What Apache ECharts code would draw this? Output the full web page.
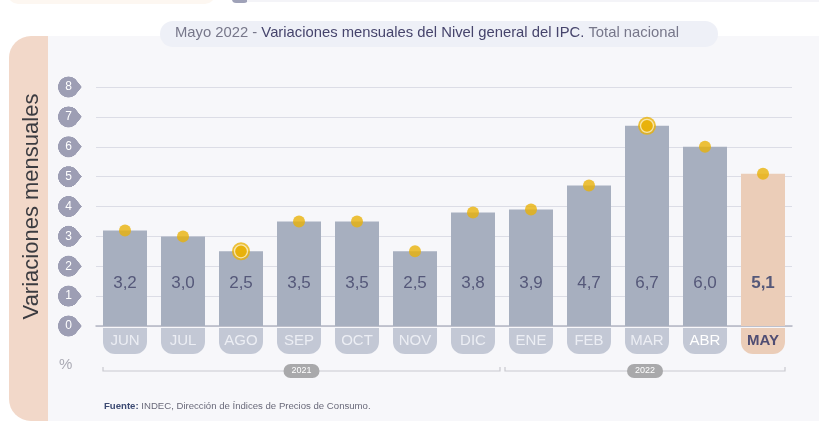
<!DOCTYPE html>
<html><head><meta charset="utf-8">
<script src="https://cdn.jsdelivr.net/npm/echarts@6/dist/echarts.min.js"></script>
<style>html,body{margin:0;padding:0;background:#fff}#c{width:819px;height:434px}</style>
</head><body><div id="c"></div>
<script>
const categories = ['JUN','JUL','AGO','SEP','OCT','NOV','DIC','ENE','FEB','MAR','ABR','MAY'];
const values = [3.2,3.0,2.5,3.5,3.5,2.5,3.8,3.9,4.7,6.7,6.0,5.1];
const yTicks = [0,1,2,3,4,5,6,7,8];
const highlighted = ['AGO','MAR'];
const years = [{label:'2021', from:'JUN', to:'DIC'},{label:'2022', from:'ENE', to:'MAY'}];

// pin image for y labels
function pinImage(){
  const c = document.createElement('canvas'); const s = 4;
  c.width = 24*s; c.height = 21*s;
  const g = c.getContext('2d'); g.scale(s,s);
  g.fillStyle = '#9d9eb4';
  g.beginPath();
  g.arc(10.5,10.5,10.5,Math.PI*0.27, Math.PI*1.73, false);
  g.lineTo(23.8,10.5);
  g.closePath(); g.fill();
  return c;
}
const pin = pinImage();

const chart = echarts.init(document.getElementById('c'));
const last = categories.length-1;
const yellow = '#e8b10a';
const FF = 'Liberation Sans, Arial, sans-serif';

const option = {
  backgroundColor:'#ffffff',
  animation:false,
  textStyle:{fontFamily:FF},
  title:{
    left:175, top:25,
    text:'{a|Mayo 2022 - }{b|Variaciones mensuales del Nivel general del IPC.}{a| Total nacional}',
    padding:0,
    textStyle:{fontWeight:'normal', rich:{
      a:{fontSize:14.8,color:'#77778a',fontFamily:FF,fontWeight:'normal',lineHeight:16},
      b:{fontSize:14.8,color:'#46446c',fontFamily:FF,fontWeight:'normal',lineHeight:16}
    }}
  },
  grid:{left:96,right:27,top:87,bottom:108},
  xAxis:{
    type:'category', data:categories,
    axisLine:{lineStyle:{color:'#b4b7c4',width:1.5}},
    axisTick:{show:false},
    axisLabel:{
      margin:2, interval:0,
      formatter:(v,i)=> i===last ? '{m|'+v+'}' : (v==='ABR' ? '{w|'+v+'}' : '{n|'+v+'}'),
      rich:{
        n:{backgroundColor:'#c3c8d5',color:'#eceef4',fontSize:15,width:44,height:26,align:'center',borderRadius:[0,0,12,12],lineHeight:26},
        w:{backgroundColor:'#c3c8d5',color:'#ffffff',fontSize:15,width:44,height:26,align:'center',borderRadius:[0,0,12,12],lineHeight:26},
        m:{backgroundColor:'#ebcdb8',color:'#4f4d73',fontWeight:'bold',fontSize:15,width:44,height:26,align:'center',borderRadius:[0,0,12,12],lineHeight:26}
      }
    }
  },
  yAxis:{
    type:'value', min:yTicks[0], max:yTicks[yTicks.length-1], interval:1,
    name:'Variaciones mensuales', nameLocation:'middle', nameRotate:90, nameGap:53,
    nameTextStyle:{fontSize:22,color:'#3b3b40',fontFamily:FF},
    axisLine:{show:false}, axisTick:{show:false},
    splitLine:{lineStyle:{color:'#dcdde6',width:1}},
    axisLabel:{
      margin:14,
      formatter:v=>'{p|'+v+'}',
      rich:{p:{backgroundColor:{image:pin},width:21,height:21,lineHeight:21,padding:[0,3,0,0],align:'center',color:'#ffffff',fontSize:12}}
    }
  },
  series:[
    {
      type:'bar', barWidth:44, z:2,
      data: values.map((v,i)=>({value:v,
        itemStyle:{color: i===last ? '#ebcdb8' : '#a7afbf'},
        label:{fontWeight: i===last ? 'bold':'normal'}})),
      label:{show:true, position:'insideBottom', distance:34, fontSize:17, color:'#555879',
        formatter:p=>p.value.toFixed(1).replace('.',',')}
    },
    {
      type:'scatter', z:5, symbol:'circle', symbolSize:12,
      itemStyle:{color:yellow}, data:values
    },
    {
      type:'scatter', z:6, symbol:'circle', symbolSize:18,
      itemStyle:{color:yellow}, data:values.map((v,i)=>highlighted.includes(categories[i])?v:'-')
    },
    {
      type:'scatter', z:7, symbol:'circle', symbolSize:13,
      itemStyle:{color:yellow,borderColor:'rgba(255,248,225,0.9)',borderWidth:1.3}, data:values.map((v,i)=>highlighted.includes(categories[i])?v:'-')
    }
  ]
};
chart.setOption(option);

// background panels & annotations
const half = 22;
const g = [
  {type:'rect', z:-10, shape:{x:48,y:36,width:771,height:385}, style:{fill:'#f7f7fa'}},
  {type:'rect', z:-10, shape:{x:9,y:36,width:60,height:385,r:[22,0,0,22]}, style:{fill:'#f2d8c9'}},
  {type:'rect', z:-9, shape:{x:48,y:36,width:30,height:385}, style:{fill:'#f7f7fa'}},
  {type:'rect', z:-8, shape:{x:160,y:21,width:558,height:26,r:13}, style:{fill:'#eef0f7'}},
  {type:'rect', z:-10, shape:{x:8,y:-20,width:207,height:24,r:10}, style:{fill:'#fdf7f1'}},
  {type:'rect', z:-10, shape:{x:232,y:-20,width:16,height:23,r:4}, style:{fill:'#9fa2b8'}},
  {type:'rect', z:-10, shape:{x:247,y:0,width:572,height:2}, style:{fill:'#f4f4f8'}},
  {type:'text', x:59, y:357, style:{text:'%', fontSize:15, fill:'#aaaab4', fontFamily:FF}},
  {type:'text', x:104, y:401, style:{text:'{b|Fuente:} INDEC, Dirección de Índices de Precios de Consumo.', fontSize:9.6, fill:'#6a6a7a', fontFamily:FF,
     rich:{b:{fontWeight:'bold',fill:'#3c4a72',fontSize:9.6}}}}
];
const yb = 371;
years.forEach((yr,k)=>{
  const i0 = categories.indexOf(yr.from), i1 = categories.indexOf(yr.to);
  const x0 = chart.convertToPixel({xAxisIndex:0}, i0) - half;
  let x1 = chart.convertToPixel({xAxisIndex:0}, i1) + half;
  let xs = x0;
  if (k===0) { const nx = chart.convertToPixel({xAxisIndex:0}, i1+1); x1 = (x1 + (nx - half))/2 - 2; }
  else { const px = chart.convertToPixel({xAxisIndex:0}, i0-1); xs = ((px+half) + x0)/2 + 3; }
  g.push({type:'polyline', shape:{points:[[xs,yb-4],[xs,yb],[x1,yb],[x1,yb-4]]}, style:{stroke:'#c9c9cf',lineWidth:1.2,fill:null}});
  const cx = (xs+x1)/2;
  g.push({type:'rect', shape:{x:cx-18,y:yb-7,width:36,height:14,r:7}, style:{fill:'#a9a9ab'}});
  g.push({type:'text', x:cx, y:yb, style:{text:yr.label, fontSize:9, fill:'#ffffff', align:'center', verticalAlign:'middle', fontFamily:FF}});
});
chart.setOption({graphic:g});
</script></body></html>
